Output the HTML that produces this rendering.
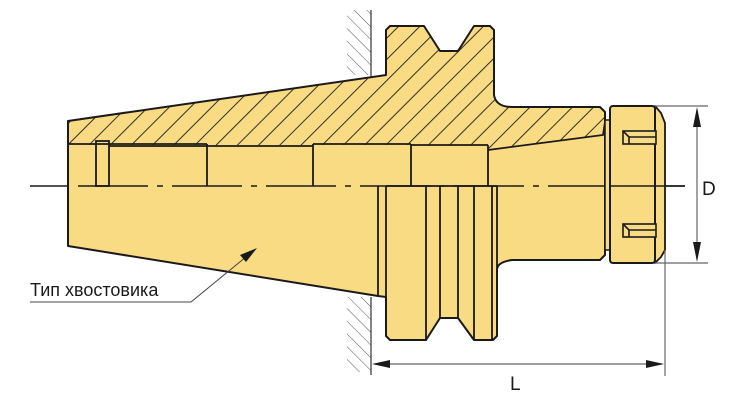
<!DOCTYPE html>
<html><head><meta charset="utf-8"><style>
html,body{margin:0;padding:0;background:#fff;}
svg{display:block;}
</style></head><body>
<svg width="735" height="401" viewBox="0 0 735 401" xmlns="http://www.w3.org/2000/svg">
<defs>
<pattern id="h" width="15" height="15" patternUnits="userSpaceOnUse" patternTransform="rotate(45)">
<line x1="0" y1="0" x2="0" y2="15" stroke="#1a1a1a" stroke-width="1.8"/>
</pattern>
<pattern id="w" width="9" height="9" patternUnits="userSpaceOnUse" patternTransform="rotate(-45)">
<line x1="0" y1="0" x2="0" y2="9" stroke="#555" stroke-width="1"/>
</pattern>
</defs>
<rect x="347" y="10" width="24" height="65" fill="url(#w)"/>
<rect x="347" y="297" width="24" height="75" fill="url(#w)"/>
<line x1="371" y1="10" x2="371" y2="78" stroke="#333" stroke-width="1.2"/>
<line x1="371" y1="297" x2="371" y2="375" stroke="#333" stroke-width="1.2"/>
<path d="M68,121 L386,75 L386,30 L390,26 L424,26 L440,51 L458,51 L474,26 L490,26 L494,30 L494,95 Q496,107 512,107 L600,107 L605,112 L605,255 L600,260 L512,260 Q497,262 497,270 L497,336 L493,340 L474,340 L458,318 L440,318 L426,340 L390,340 L386,336 L386,297 L378,296 L68,246 Z" fill="#f9db84" stroke="#1a1a1a" stroke-width="2" stroke-linejoin="round"/>
<path d="M68,121 L386,75 L386,30 L390,26 L424,26 L440,51 L458,51 L474,26 L490,26 L494,30 L494,95 Q496,107 512,107 L600,107 L605,112 L605,122 L603,135 L488,150 L488,145 L68,145 Z" fill="url(#h)"/>
<path d="M605,122 L603,135 L488,150" fill="none" stroke="#1a1a1a" stroke-width="1.8"/>
<!-- centerline dash-dot -->
<line x1="30" y1="186" x2="68" y2="186" stroke="#1a1a1a" stroke-width="1.6"/>
<line x1="68" y1="186" x2="685" y2="186" stroke="#1a1a1a" stroke-width="1.6" stroke-dasharray="70 9 6 9" stroke-dashoffset="-10"/>
<g stroke="#1a1a1a" stroke-width="1.8" fill="none">
<line x1="68" y1="144" x2="207" y2="144"/>
<rect x="96" y="141" width="13" height="45"/>
<line x1="109" y1="146" x2="207" y2="146"/>
<line x1="207" y1="144" x2="207" y2="186"/>
<line x1="207" y1="146" x2="313" y2="146"/>
<line x1="313" y1="144" x2="313" y2="186"/>
<line x1="313" y1="144" x2="411" y2="144"/>
<line x1="411" y1="144" x2="411" y2="186"/>
<line x1="411" y1="145" x2="488" y2="145"/>
<line x1="488" y1="145" x2="488" y2="186"/>
<line x1="378" y1="186" x2="378" y2="296"/>
<line x1="386" y1="186" x2="386" y2="297"/>
<line x1="426" y1="186" x2="426" y2="340"/>
<line x1="440" y1="186" x2="440" y2="318"/>
<line x1="458" y1="186" x2="458" y2="318"/>
<line x1="474" y1="186" x2="474" y2="340"/>
<line x1="492" y1="186" x2="492" y2="340"/>
<line x1="497" y1="186" x2="497" y2="270"/>
<line x1="386" y1="186" x2="497" y2="186"/>
</g>
<rect x="605" y="120" width="5" height="130" fill="#f9db84" stroke="#1a1a1a" stroke-width="1.5"/>
<path d="M655,106 L661,113 L665,123 L665,250 L661,257 L655,263 Z" fill="#f9db84" stroke="#1a1a1a" stroke-width="1.8" stroke-linejoin="round"/>
<rect x="610" y="106" width="45" height="157" rx="3" fill="#f9db84" stroke="#1a1a1a" stroke-width="2"/>
<line x1="610" y1="186" x2="685" y2="186" stroke="#1a1a1a" stroke-width="1.4"/>
<g fill="#f9db84" stroke="#1a1a1a" stroke-width="1.6">
<rect x="623" y="131" width="33" height="13"/>
<rect x="623" y="224" width="33" height="13"/>
<path d="M623,131 L629,137 L629,144 M629,137 L656,137" fill="none"/>
<path d="M623,224 L629,230 L629,237 M629,230 L656,230" fill="none"/>
</g>
<g stroke="#666" stroke-width="1.2">
<line x1="655" y1="106" x2="708" y2="106"/>
<line x1="655" y1="263" x2="708" y2="263"/>
<line x1="697" y1="110" x2="697" y2="259"/>
<line x1="665" y1="250" x2="665" y2="376"/>
<line x1="375" y1="364" x2="662" y2="364"/>
</g>
<path d="M697,107 L693,127 L701,127 Z M697,262 L693,242 L701,242 Z" fill="#1a1a1a"/>
<path d="M372,364 L390,360 L390,368 Z M664,364 L646,360 L646,368 Z" fill="#1a1a1a"/>
<text x="702" y="195" font-family="Liberation Sans, sans-serif" font-size="19" fill="#1a1a1a">D</text>
<text x="510" y="390" font-family="Liberation Sans, sans-serif" font-size="19" fill="#1a1a1a">L</text>
<text x="30" y="296" font-family="Liberation Sans, sans-serif" font-size="18" fill="#1a1a1a">Тип хвостовика</text>
<polyline points="30,302 191,302 252,252" fill="none" stroke="#444" stroke-width="1"/>
<path d="M257,248 L240,255 L246,262 Z" fill="#1a1a1a"/>
</svg>
</body></html>
